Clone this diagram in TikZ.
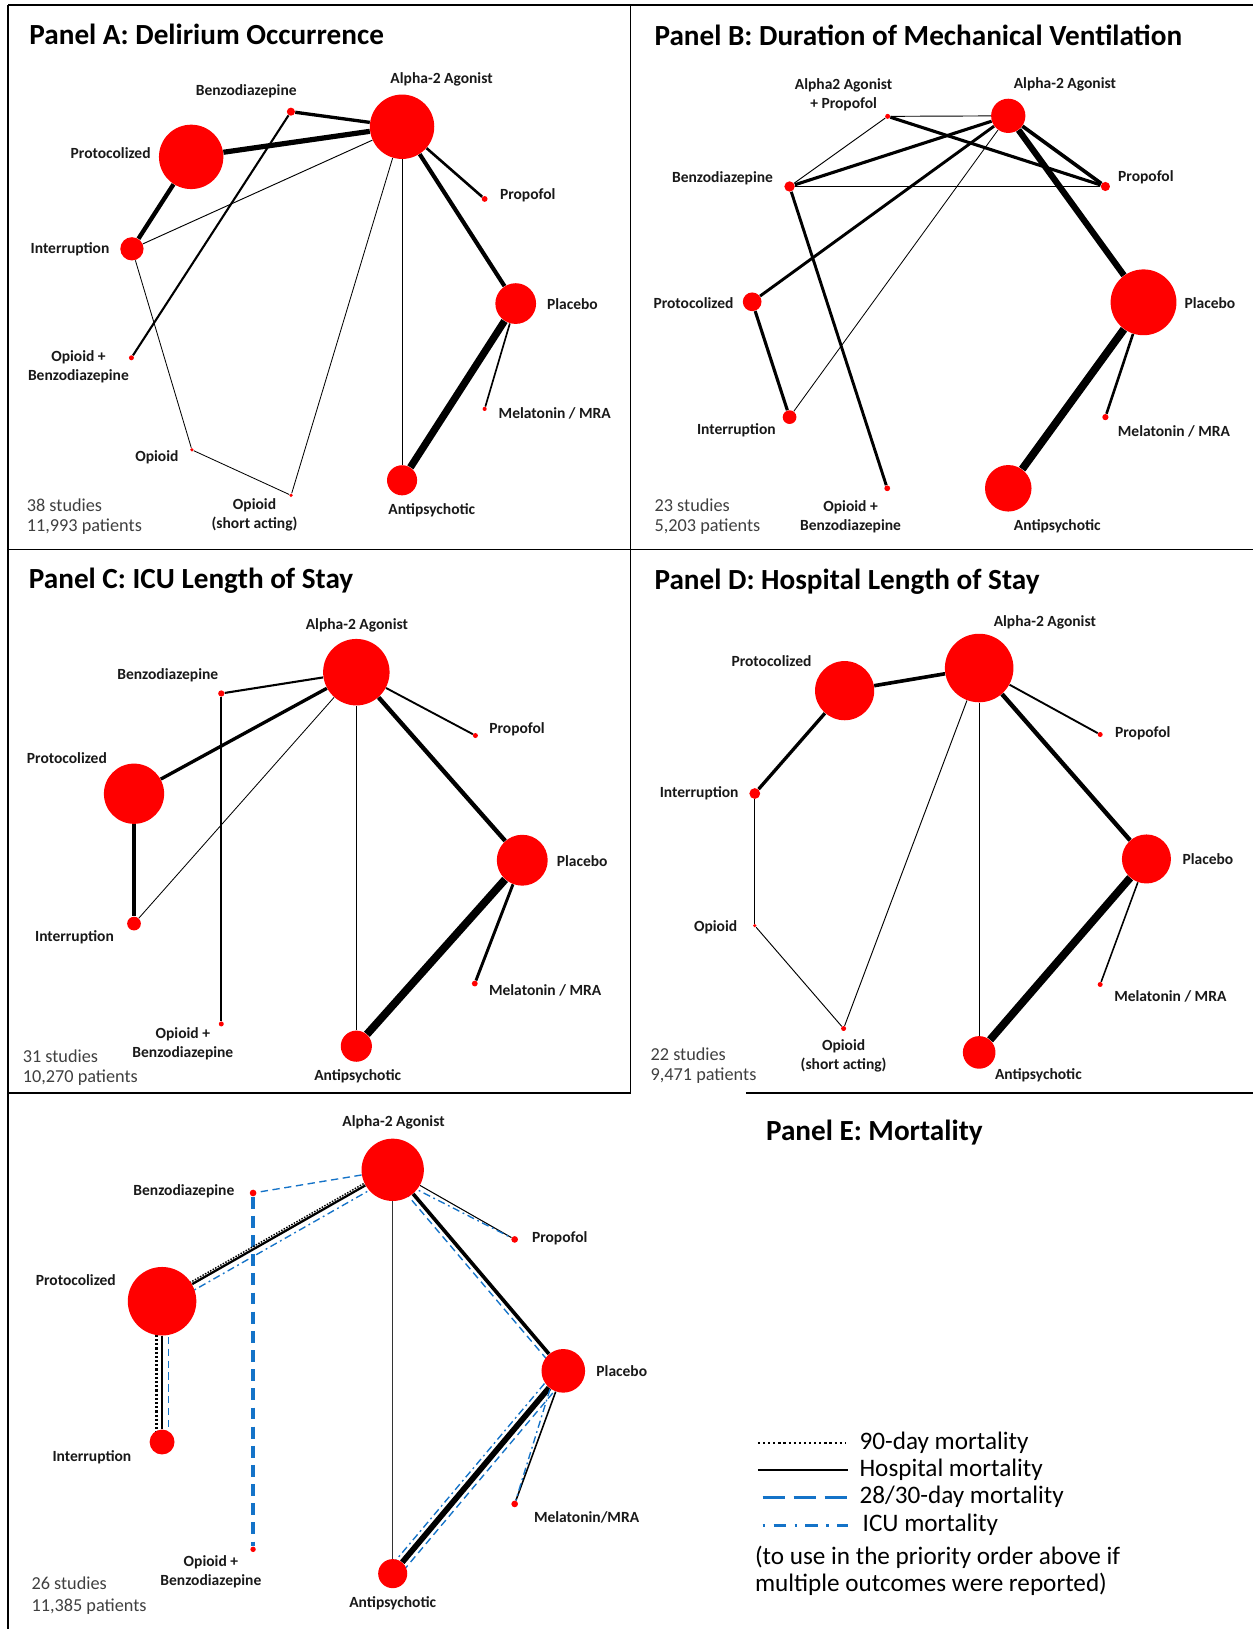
\documentclass[tikz,border=0pt]{standalone}
\usepackage{fontspec}
\setmainfont{Carlito}
\usetikzlibrary{calc}
\pgfdeclarelayer{background}
\pgfsetlayers{background,main}
\definecolor{mblue}{RGB}{20,115,200}
\tikzset{
  trt/.style={circle, fill=red, inner sep=0pt, minimum size=#1*0.04cm},
  lbl/.style={font=\fontsize{8.5}{10.3}\selectfont\bfseries, text=black!90, align=center, inner sep=0pt},
  ptitle/.style={font=\fontsize{16}{19}\selectfont\bfseries, anchor=west, inner sep=0pt},
  stats/.style={font=\fontsize{10}{12}\selectfont, text=black!75, anchor=west, inner sep=0pt},
  legtxt/.style={font=\fontsize{13.8}{16}\selectfont, anchor=west, inner sep=0pt},
  wt/.style={line width=#1*0.02cm},
  frame/.style={line width=0.9pt},
  mort90/.style={black, dash pattern=on 0.8pt off 0.8pt},
  mort28/.style={mblue, dash pattern=on 4pt off 2.5pt},
  morticu/.style={mblue, dash pattern=on 1pt off 2pt on 4pt off 2pt},
}
\begin{document}
\begin{tikzpicture}[x=0.02cm, y=-0.02cm]
\begin{pgfonlayer}{background}
\fill[white] (0,0) rectangle (1206,1568);
\end{pgfonlayer}
\useasboundingbox (0,0) rectangle (1206,1568);

% panel frames
\draw[frame] (8,5) -- (1206,5);
\draw[frame] (8,5) -- (8,1568);
\draw[frame] (607,5) -- (607,1052);
\draw[frame] (8,529) -- (1206,529);
\draw[frame] (8,1052) -- (607,1052);
\draw[frame] (718,1052) -- (1206,1052);

% Panel A
\node[ptitle] (a-title) at (28,33.5) {Panel A: Delirium Occurrence};
\node[trt=31] (a-alpha) at (387,122) {};
\node[trt=3.9] (a-benzo) at (280,107.5) {};
\node[trt=31] (a-prot) at (184,151) {};
\node[trt=11.2] (a-int) at (127,239.5) {};
\node[trt=2.8] (a-prop) at (466.5,191.5) {};
\node[trt=19.6] (a-plac) at (496.4,292.2) {};
\node[trt=2.4] (a-opbz) at (126.5,344.4) {};
\node[trt=2] (a-mel) at (466.5,393.6) {};
\node[trt=1.7] (a-opi) at (184.7,433) {};
\node[trt=1.7] (a-opsh) at (280.2,476.8) {};
\node[trt=14.5] (a-anti) at (387,462.3) {};
\node[lbl] (a-alpha-l) at (425,76.3) {Alpha-2 Agonist};
\node[lbl] (a-benzo-l) at (237,88.3) {Benzodiazepine};
\node[lbl] (a-prot-l) at (106.5,147) {Protocolized};
\node[lbl] (a-int-l) at (67.4,240) {Interruption};
\node[lbl] (a-prop-l) at (508,188.4) {Propofol};
\node[lbl] (a-plac-l) at (551,293) {Placebo};
\node[lbl] (a-opbz-l) at (75.5,352.8) {Opioid +\\Benzodiazepine};
\node[lbl] (a-mel-l) at (534,398) {Melatonin / MRA};
\node[lbl] (a-opi-l) at (151,440) {Opioid};
\node[lbl] (a-opsh-l) at (245,495.3) {Opioid\\(short acting)};
\node[lbl] (a-anti-l) at (415.6,491.5) {Antipsychotic};
\node[stats] (a-st1) at (25.5,486.4) {38 studies};
\node[stats] (a-st2) at (25.5,507) {11,993 patients};
\begin{pgfonlayer}{background}
\draw[wt=3.2] (a-alpha) -- (a-benzo);
\draw[wt=5] (a-alpha) -- (a-prot);
\draw[wt=4.2] (a-prot) -- (a-int);
\draw[wt=0.9] (a-int) -- (a-alpha);
\draw[wt=2] (a-benzo) -- (a-opbz);
\draw[wt=0.8] (a-int) -- (a-opi);
\draw[wt=0.8] (a-opi) -- (a-opsh);
\draw[wt=0.8] (a-opsh) -- (a-alpha);
\draw[wt=0.8] (a-alpha) -- (a-anti);
\draw[wt=2.5] (a-alpha) -- (a-prop);
\draw[wt=4] (a-alpha) -- (a-plac);
\draw[wt=7] (a-plac) -- (a-anti);
\draw[wt=1.6] (a-plac) -- (a-mel);
\end{pgfonlayer}

% Panel B
\node[ptitle] (b-title) at (629.7,34.4) {Panel B: Duration of Mechanical Ventilation};
\node[trt=16.5] (b-alpha) at (970.5,111.5) {};
\node[trt=2.4] (b-a2p) at (854.4,112) {};
\node[trt=5] (b-benzo) at (760,179.5) {};
\node[trt=4.4] (b-prop) at (1064,179.5) {};
\node[trt=9] (b-prot) at (724,290.5) {};
\node[trt=31.7] (b-plac) at (1100.7,291) {};
\node[trt=6.6] (b-int) at (760,401.5) {};
\node[trt=3] (b-mel) at (1064,401.5) {};
\node[trt=2.8] (b-opbz) at (854,470) {};
\node[trt=22.4] (b-anti) at (970.5,470) {};
\node[lbl] (b-a2p-l) at (812,91.6) {Alpha2 Agonist\\+ Propofol};
\node[lbl] (b-alpha-l) at (1025,81.5) {Alpha-2 Agonist};
\node[lbl] (b-benzo-l) at (695.5,171.2) {Benzodiazepine};
\node[lbl] (b-prop-l) at (1103,170.8) {Propofol};
\node[lbl] (b-prot-l) at (667.5,291.5) {Protocolized};
\node[lbl] (b-plac-l) at (1164.6,291.5) {Placebo};
\node[lbl] (b-int-l) at (708.8,414.2) {Interruption};
\node[lbl] (b-mel-l) at (1130,414.9) {Melatonin / MRA};
\node[lbl] (b-opbz-l) at (818.7,497.2) {Opioid +\\Benzodiazepine};
\node[lbl] (b-anti-l) at (1017.7,506.3) {Antipsychotic};
\node[stats] (b-st1) at (629.7,486.4) {23 studies};
\node[stats] (b-st2) at (629.7,507) {5,203 patients};
\begin{pgfonlayer}{background}
\draw[wt=0.9] (b-a2p) -- (b-alpha);
\draw[wt=3] (b-a2p) -- (b-prop);
\draw[wt=0.9] (b-a2p) -- (b-benzo);
\draw[wt=3] (b-benzo) -- (b-alpha);
\draw[wt=0.9] (b-benzo) -- (b-prop);
\draw[wt=3.5] (b-alpha) -- (b-prop);
\draw[wt=2.8] (b-alpha) -- (b-prot);
\draw[wt=0.8] (b-alpha) -- (b-int);
\draw[wt=6] (b-alpha) -- (b-plac);
\draw[wt=3] (b-prot) -- (b-int);
\draw[wt=2.8] (b-benzo) -- (b-opbz);
\draw[wt=7.5] (b-plac) -- (b-anti);
\draw[wt=2.5] (b-plac) -- (b-mel);
\end{pgfonlayer}

% Panel C
\node[ptitle] (c-title) at (27.5,558.6) {Panel C: ICU Length of Stay};
\node[trt=32] (c-alpha) at (343,647) {};
\node[trt=3] (c-benzo) at (213,667.5) {};
\node[trt=2.4] (c-prop) at (457.6,708) {};
\node[trt=29] (c-prot) at (129,764) {};
\node[trt=24.5] (c-plac) at (502.7,828) {};
\node[trt=6.6] (c-int) at (129,889) {};
\node[trt=2.8] (c-mel) at (457,946.7) {};
\node[trt=2.4] (c-opbz) at (213,985.6) {};
\node[trt=15] (c-anti) at (343,1007) {};
\node[lbl] (c-alpha-l) at (343.5,602.2) {Alpha-2 Agonist};
\node[lbl] (c-benzo-l) at (161.5,649.7) {Benzodiazepine};
\node[lbl] (c-prop-l) at (497.7,702) {Propofol};
\node[lbl] (c-prot-l) at (64.4,730) {Protocolized};
\node[lbl] (c-plac-l) at (560.4,828.4) {Placebo};
\node[lbl] (c-int-l) at (71.7,902.3) {Interruption};
\node[lbl] (c-mel-l) at (524.7,953.5) {Melatonin / MRA};
\node[lbl] (c-opbz-l) at (176,1004.8) {Opioid +\\Benzodiazepine};
\node[lbl] (c-anti-l) at (344.3,1036) {Antipsychotic};
\node[stats] (c-st1) at (21.6,1016.4) {31 studies};
\node[stats] (c-st2) at (21.6,1037) {10,270 patients};
\begin{pgfonlayer}{background}
\draw[wt=2] (c-alpha) -- (c-benzo);
\draw[wt=2] (c-benzo) -- (c-opbz);
\draw[wt=3.2] (c-alpha) -- (c-prot);
\draw[wt=0.8] (c-alpha) -- (c-int);
\draw[wt=3.5] (c-prot) -- (c-int);
\draw[wt=0.8] (c-alpha) -- (c-anti);
\draw[wt=1.8] (c-alpha) -- (c-prop);
\draw[wt=4.2] (c-alpha) -- (c-plac);
\draw[wt=7.5] (c-plac) -- (c-anti);
\draw[wt=2.8] (c-plac) -- (c-mel);
\end{pgfonlayer}

% Panel D
\node[ptitle] (d-title) at (629.7,560) {Panel D: Hospital Length of Stay};
\node[trt=33] (d-alpha) at (942.5,643) {};
\node[trt=28.5] (d-prot) at (813,664.8) {};
\node[trt=2.4] (d-prop) at (1059,707) {};
\node[trt=5.2] (d-int) at (726.5,763.8) {};
\node[trt=23.6] (d-plac) at (1103.5,826.8) {};
\node[trt=1.7] (d-opi) at (726.5,891) {};
\node[trt=2.4] (d-mel) at (1059,947.6) {};
\node[trt=2.4] (d-opsh) at (812,990) {};
\node[trt=15.7] (d-anti) at (942.5,1013) {};
\node[lbl] (d-alpha-l) at (1005.7,599.5) {Alpha-2 Agonist};
\node[lbl] (d-prot-l) at (742.6,636.6) {Protocolized};
\node[lbl] (d-prop-l) at (1100,705.4) {Propofol};
\node[lbl] (d-int-l) at (673,763.8) {Interruption};
\node[lbl] (d-plac-l) at (1162.7,826.7) {Placebo};
\node[lbl] (d-opi-l) at (688.8,892.7) {Opioid};
\node[lbl] (d-mel-l) at (1126.5,959) {Melatonin / MRA};
\node[lbl] (d-opsh-l) at (812,1016.4) {Opioid\\(short acting)};
\node[lbl] (d-anti-l) at (999.5,1035.3) {Antipsychotic};
\node[stats] (d-st1) at (625.9,1014.7) {22 studies};
\node[stats] (d-st2) at (625.9,1035.3) {9,471 patients};
\begin{pgfonlayer}{background}
\draw[wt=3.5] (d-prot) -- (d-alpha);
\draw[wt=3.2] (d-prot) -- (d-int);
\draw[wt=0.8] (d-int) -- (d-opi);
\draw[wt=0.9] (d-opi) -- (d-opsh);
\draw[wt=0.9] (d-opsh) -- (d-alpha);
\draw[wt=0.9] (d-alpha) -- (d-anti);
\draw[wt=1.8] (d-alpha) -- (d-prop);
\draw[wt=4.2] (d-alpha) -- (d-plac);
\draw[wt=7.5] (d-plac) -- (d-anti);
\draw[wt=1.5] (d-plac) -- (d-mel);
\end{pgfonlayer}

% Panel E
\node[ptitle] (e-title) at (737,1090) {Panel E: Mortality};
\node[trt=30] (e-alpha) at (378,1126) {};
\node[trt=3.2] (e-benzo) at (243.6,1148.3) {};
\node[trt=3.2] (e-prop) at (495.4,1193) {};
\node[trt=33] (e-prot) at (156,1252.5) {};
\node[trt=21] (e-plac) at (542.2,1319.5) {};
\node[trt=12] (e-int) at (156,1388) {};
\node[trt=3.2] (e-mel) at (495.4,1447.6) {};
\node[trt=2.6] (e-opbz) at (243.6,1491.3) {};
\node[trt=14] (e-anti) at (378,1514.7) {};
\node[lbl] (e-alpha-l) at (378.8,1080.5) {Alpha-2 Agonist};
\node[lbl] (e-benzo-l) at (177,1146.7) {Benzodiazepine};
\node[lbl] (e-prop-l) at (538.8,1192) {Propofol};
\node[lbl] (e-prot-l) at (73,1232) {Protocolized};
\node[lbl] (e-plac-l) at (598.5,1319.6) {Placebo};
\node[lbl] (e-int-l) at (88.5,1402.3) {Interruption};
\node[lbl] (e-mel-l) at (564.6,1461) {Melatonin/MRA};
\node[lbl] (e-opbz-l) at (203,1512.9) {Opioid +\\Benzodiazepine};
\node[lbl] (e-anti-l) at (378,1542.8) {Antipsychotic};
\node[stats] (e-st1) at (30,1524.4) {26 studies};
\node[stats] (e-st2) at (30,1546.2) {11,385 patients};
\begin{pgfonlayer}{background}
\draw[mort28, wt=1.3] (e-alpha) -- (e-benzo);
\draw[mblue, wt=3.2, dash pattern=on 6.5pt off 4pt] (e-benzo) -- (e-opbz);
% alpha - protocolized
\draw[mort90, wt=1.4] ($(e-alpha)!-1.3pt!90:(e-prot)$) -- ($(e-prot)!-1.3pt!-90:(e-alpha)$);
\draw[wt=2.2] (e-alpha) -- (e-prot);
\draw[morticu, wt=1.3] ($(e-alpha)!3.4pt!90:(e-prot)$) -- ($(e-prot)!3.4pt!-90:(e-alpha)$);
% protocolized - interruption
\draw[mort90, wt=2.4, dash pattern=on 1.2pt off 1.1pt] ($(e-prot)!-3pt!90:(e-int)$) -- ($(e-int)!-3pt!-90:(e-prot)$);
\draw[wt=2.2] (e-prot) -- (e-int);
\draw[mort28, wt=1.3] ($(e-prot)!3.4pt!90:(e-int)$) -- ($(e-int)!3.4pt!-90:(e-prot)$);
% alpha - others
\draw[black!80, wt=1] (e-alpha) -- (e-anti);
\draw[wt=1] (e-alpha) -- (e-prop);
\draw[morticu, wt=1.3] ($(e-alpha)!-3.6pt!90:(e-prop)$) -- (e-prop);
\draw[wt=3.5] (e-alpha) -- (e-plac);
\draw[mort28, wt=1.3] ($(e-alpha)!-2.8pt!90:(e-plac)$) -- ($(e-plac)!-2.8pt!-90:(e-alpha)$);
% placebo - others
\draw[wt=5.5] (e-plac) -- (e-anti);
\draw[morticu, wt=1.3] ($(e-plac)!-3.4pt!90:(e-anti)$) -- ($(e-anti)!-3.4pt!-90:(e-plac)$);
\draw[mort28, wt=1.3] ($(e-plac)!3.4pt!90:(e-anti)$) -- ($(e-anti)!3.4pt!-90:(e-plac)$);
\draw[wt=1.5] (e-plac) -- (e-mel);
\draw[morticu, wt=1.3] ($(e-plac)!-4pt!90:(e-mel)$) -- (e-mel);
\end{pgfonlayer}

% legend
\coordinate (k90a) at (729.5,1389);
\coordinate (k90b) at (814,1389);
\coordinate (khosa) at (729.5,1415);
\coordinate (khosb) at (816,1415);
\coordinate (k28a) at (734,1441);
\coordinate (k28b) at (816,1441);
\coordinate (kicua) at (734,1468);
\coordinate (kicub) at (816,1468);
\draw[black, wt=2, dash pattern=on 1.2pt off 1.6pt] (k90a) -- (k90b);
\draw[wt=2.6] (khosa) -- (khosb);
\draw[mblue, wt=3, dash pattern=on 12.5pt off 4.5pt] (k28a) -- (k28b);
\draw[mblue, wt=3, dash pattern=on 1.5pt off 4.5pt on 7pt off 4.5pt] (kicua) -- (kicub);
\node[legtxt] (k90) at (827,1389) {90-day mortality};
\node[legtxt] (khos) at (827,1415) {Hospital mortality};
\node[legtxt] (k28) at (827,1441) {28/30-day mortality};
\node[legtxt] (kicu) at (830,1468) {ICU mortality};
\node[legtxt] (knote1) at (726.4,1498.6) {(to use in the priority order above if};
\node[legtxt] (knote2) at (726.4,1525.4) {multiple outcomes were reported)};
\end{tikzpicture}
\end{document}
